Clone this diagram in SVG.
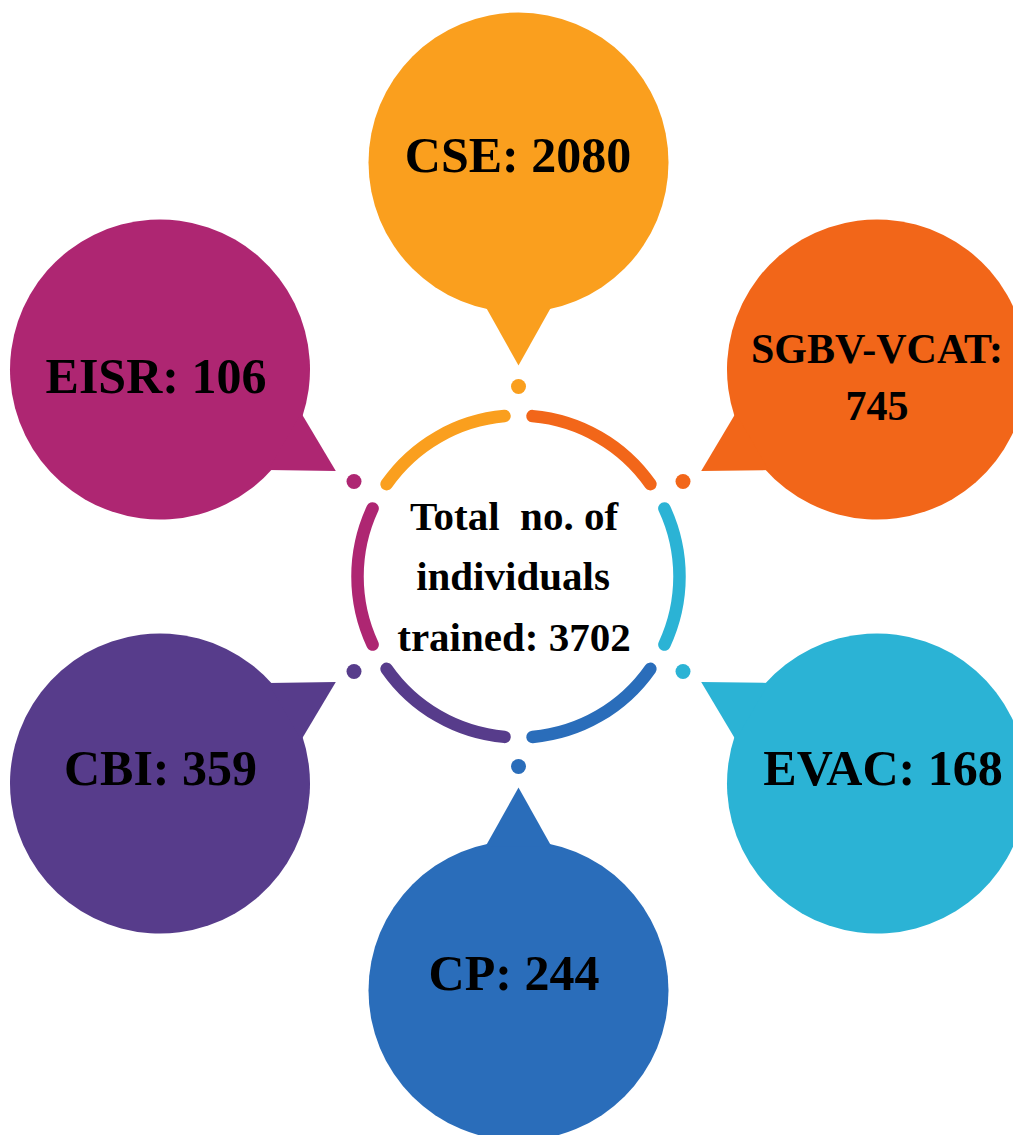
<svg xmlns="http://www.w3.org/2000/svg" xmlns:xlink="http://www.w3.org/1999/xlink" width="1013" height="1135" viewBox="0 0 1013 1135">
  <style>
    .lbl { font-family: "Liberation Serif", "Times New Roman", serif; font-weight: bold; fill: #000; text-anchor: middle; }
    .big { font-size: 50px; }
    .mid { font-size: 42px; }
    .ctr { font-size: 41px; white-space: pre; }
    .arc { fill: none; stroke-width: 12.5; stroke-linecap: round; }
  </style>
  <defs>
    <g id="bubble">
      <circle cx="0" cy="0" r="150"/>
      <path d="M-33,144 L0,203 L33,144 Z"/>
    </g>
    <path id="arcA" d="M386.6,484.2 A161,161 0 0 1 504.5,416.1"/>
  </defs>
  <rect width="1013" height="1135" fill="#ffffff"/>

  <g id="connectors">
    <use xlink:href="#arcA" class="arc" stroke="#FA9F1E"/>
    <use xlink:href="#arcA" class="arc" stroke="#F26619" transform="rotate(60 518.5 576.5)"/>
    <use xlink:href="#arcA" class="arc" stroke="#2BB3D5" transform="rotate(120 518.5 576.5)"/>
    <use xlink:href="#arcA" class="arc" stroke="#2A6DBA" transform="rotate(180 518.5 576.5)"/>
    <use xlink:href="#arcA" class="arc" stroke="#573C8B" transform="rotate(240 518.5 576.5)"/>
    <use xlink:href="#arcA" class="arc" stroke="#AE2672" transform="rotate(300 518.5 576.5)"/>
    <circle cx="518.5" cy="386.5" r="7.5" fill="#FA9F1E"/>
    <circle cx="683" cy="481.5" r="7.5" fill="#F26619"/>
    <circle cx="683" cy="671.5" r="7.5" fill="#2BB3D5"/>
    <circle cx="518.5" cy="766.5" r="7.5" fill="#2A6DBA"/>
    <circle cx="354" cy="671.5" r="7.5" fill="#573C8B"/>
    <circle cx="354" cy="481.5" r="7.5" fill="#AE2672"/>
  </g>

  <g id="center">
    <text class="lbl ctr" x="514" y="530" xml:space="preserve">Total  no. of</text>
    <text class="lbl ctr" x="513" y="590">individuals</text>
    <text class="lbl ctr" x="514" y="651">trained: 3702</text>
  </g>

  <g id="cse">
    <use xlink:href="#bubble" fill="#FA9F1E" transform="translate(518.5 162.5)"/>
    <text class="lbl big" x="518" y="172">CSE: 2080</text>
  </g>

  <g id="sgbv">
    <use xlink:href="#bubble" fill="#F26619" transform="translate(877 369.5) rotate(60)"/>
    <text class="lbl mid" x="877" y="363">SGBV-VCAT:</text>
    <text class="lbl mid" x="877" y="420">745</text>
  </g>

  <g id="evac">
    <use xlink:href="#bubble" fill="#2BB3D5" transform="translate(877 783.5) rotate(120)"/>
    <text class="lbl big" x="883" y="785">EVAC: 168</text>
  </g>

  <g id="cp">
    <use xlink:href="#bubble" fill="#2A6DBA" transform="translate(518.5 990.5) rotate(180)"/>
    <text class="lbl big" x="514" y="990">CP: 244</text>
  </g>

  <g id="cbi">
    <use xlink:href="#bubble" fill="#573C8B" transform="translate(160 783.5) rotate(240)"/>
    <text class="lbl big" x="160.5" y="785">CBI: 359</text>
  </g>

  <g id="eisr">
    <use xlink:href="#bubble" fill="#AE2672" transform="translate(160 369.5) rotate(300)"/>
    <text class="lbl big" x="156" y="393">EISR: 106</text>
  </g>
</svg>
